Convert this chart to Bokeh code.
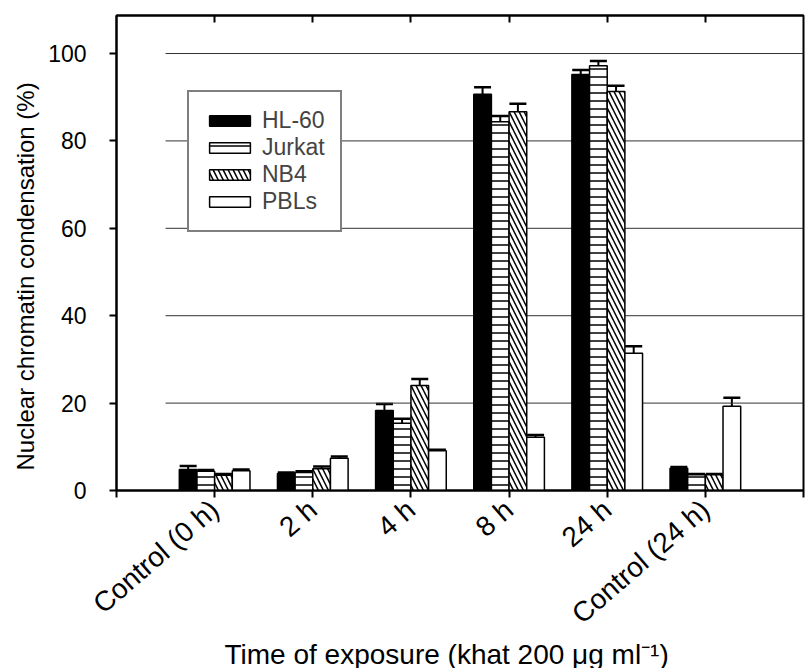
import math
import numpy as np
from bokeh.plotting import figure
from bokeh.models import (ColumnDataSource, FixedTicker, LinearAxis, Range1d,
                          Whisker, TeeHead, Legend, LegendItem, Title)
from bokeh.embed import file_html
from bokeh.resources import INLINE

categories = ["Control (0 h)", "2 h", "4 h", "8 h", "24 h", "Control (24 h)"]
series = ["HL-60", "Jurkat", "NB4", "PBLs"]
hl60 = [4.8, 3.9, 18.3, 90.7, 95.2, 5.1]
hl60_err = [0.8, 0.2, 1.5, 1.6, 1.0, 0.3]
jurkat = [4.4, 4.1, 15.4, 84.4, 97.2, 3.6]
jurkat_err = [0.3, 0.3, 1.0, 1.3, 1.1, 0.2]
nb4 = [3.5, 5.0, 24.0, 86.7, 91.3, 3.6]
nb4_err = [0.3, 0.5, 1.5, 1.8, 1.3, 0.2]
pbls = [4.5, 7.4, 9.1, 12.2, 31.4, 19.3]
pbls_err = [0.3, 0.4, 0.2, 0.5, 1.6, 1.9]
yticks = [0, 20, 40, 60, 80, 100]
grid_levels = [20, 40, 60, 80, 100]
y_title = "Nuclear chromatin condensation (%)"
x_title = "Time of exposure (khat 200 μg ml⁻¹)"

FONT = "Liberation Sans"
idx = np.arange(1, len(categories) + 1)

p = figure(frame_width=687, frame_height=475, output_backend="svg",
           toolbar_location=None, x_range=Range1d(0, 7), y_range=Range1d(0, 108.7),
           min_border_left=116, min_border_right=5, min_border_top=15,
           min_border_bottom=178, background_fill_color="white")
p.xgrid.visible = False
p.ygrid.visible = False
p.outline_line_color = "black"
p.outline_line_width = 2

# gridlines (partial, as in the original)
p.segment(x0=0.5, x1=7, y0=grid_levels, y1=grid_levels, line_color="#333333", line_width=1)

styles = [
    dict(fill_color="black", hatch_pattern=None),
    dict(fill_color="white", hatch_pattern="horizontal_line", hatch_scale=8),
    dict(fill_color="white", hatch_pattern="left_diagonal_line", hatch_scale=10),
    dict(fill_color="white", hatch_pattern=None),
]
vals = [hl60, jurkat, nb4, pbls]
errs = [hl60_err, jurkat_err, nb4_err, pbls_err]
w = 0.18
offsets = (np.arange(4) - 1.5) * w
renderers = []
for k in range(4):
    xs = idx + offsets[k]
    v = np.array(vals[k])
    e = np.array(errs[k])
    src = ColumnDataSource(dict(x=xs, top=v, up=v + e))
    st = styles[k]
    kw = dict(x="x", top="top", width=w, bottom=0, source=src,
              fill_color=st["fill_color"], line_color="black", line_width=1.5)
    if st["hatch_pattern"]:
        kw.update(hatch_pattern=st["hatch_pattern"], hatch_scale=st["hatch_scale"],
                  hatch_color="black", hatch_weight=1.5)
    r = p.vbar(**kw)
    renderers.append(r)
    wh = Whisker(base="x", lower="top", upper="up", source=src, dimension="height",
                 line_color="black", line_width=2,
                 upper_head=TeeHead(size=17, line_color="black", line_width=2.5),
                 lower_head=None)
    p.add_layout(wh)

# axes
xa = p.xaxis[0]
xa.ticker = FixedTicker(ticks=list(range(0, 8)))
overrides = {0: "", 7: ""}
for i, c in enumerate(categories):
    overrides[int(idx[i])] = c
xa.major_label_overrides = overrides
xa.major_label_orientation = math.radians(41)
xa.major_label_text_font = FONT
xa.major_label_text_font_size = "28px"
xa.major_label_text_color = "black"
xa.major_label_standoff = 8
xa.minor_tick_line_color = None
xa.major_tick_in = 0
xa.major_tick_out = 7
xa.major_tick_line_width = 2
xa.axis_line_width = 2

xtitle = Title(text=x_title, align="left", text_font=FONT, text_font_size="28px",
               text_font_style="normal", text_color="black", standoff=-16, offset=108)
p.add_layout(xtitle, "below")

ya = p.yaxis[0]
ya.ticker = FixedTicker(ticks=yticks)
ya.minor_tick_line_color = None
ya.major_tick_in = 0
ya.major_tick_out = 7
ya.major_tick_line_width = 2
ya.axis_line_width = 2
ya.major_label_text_font = FONT
ya.major_label_text_font_size = "23px"
ya.major_label_text_color = "black"
ya.major_label_standoff = 23

ytitle = Title(text=y_title, align="left", text_font=FONT, text_font_size="24px",
               text_font_style="normal", text_color="black", standoff=13, offset=20)
p.add_layout(ytitle, "left")

top = LinearAxis(ticker=FixedTicker(ticks=list(idx)), major_label_text_font_size="0px",
                 major_label_standoff=0, major_tick_in=7, major_tick_out=0,
                 major_tick_line_width=2, axis_line_width=2, minor_tick_line_color=None)
top.major_label_overrides = {int(i): "" for i in idx}
p.add_layout(top, "above")

legend = Legend(items=[LegendItem(label=s, renderers=[r]) for s, r in zip(series, renderers)],
                location=(71, 258), glyph_width=51, glyph_height=13,
                label_text_font=FONT, label_text_font_size="23px",
                label_standoff=7, spacing=0, padding=15, margin=0,
                border_line_color="black", border_line_width=2,
                background_fill_alpha=1.0)
p.add_layout(legend, "center")

open("out.html", "w").write(file_html(p, INLINE))
